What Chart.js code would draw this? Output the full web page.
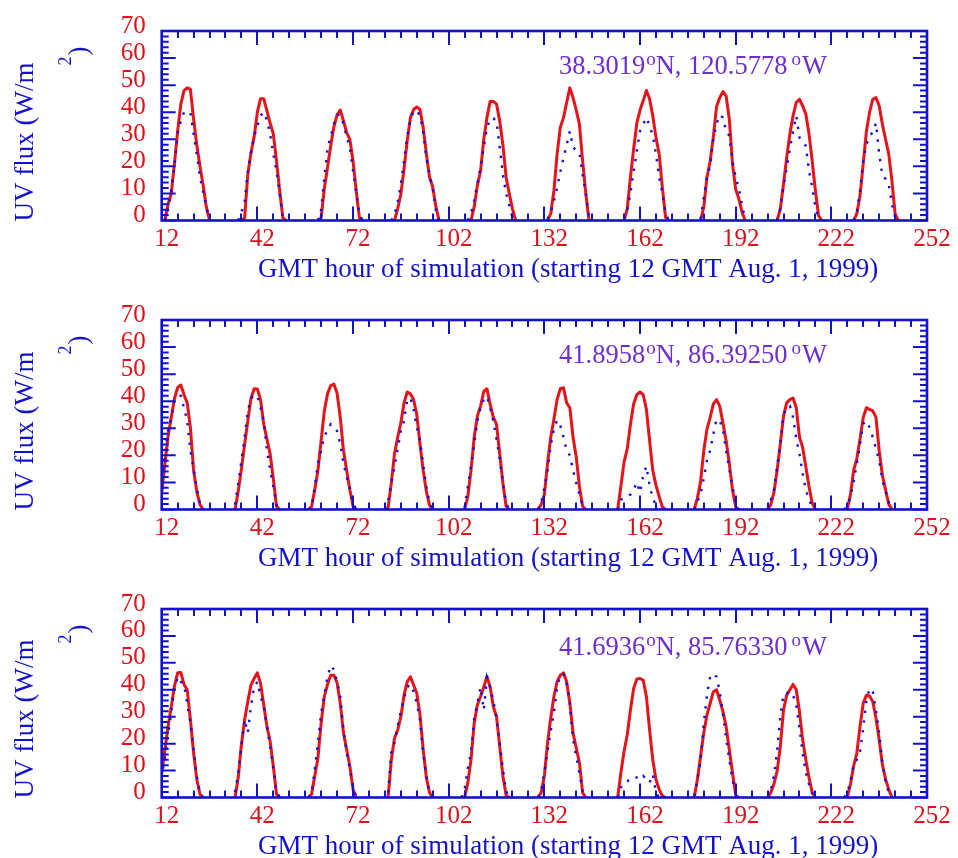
<!DOCTYPE html>
<html><head><meta charset="utf-8">
<script src="https://cdn.jsdelivr.net/npm/chart.js@4.4.0/dist/chart.umd.min.js"></script>
<style>
html,body{margin:0;padding:0;background:#fff;width:958px;height:858px;overflow:hidden;}
canvas{position:absolute;left:0;}
</style></head><body>
<canvas id="c1" width="958" height="289" style="top:0px"></canvas>
<canvas id="c2" width="958" height="289" style="top:289px"></canvas>
<canvas id="c3" width="958" height="280" style="top:578px"></canvas>
<script>
// ---------- labels ----------
const xTickValues = [12, 42, 72, 102, 132, 162, 192, 222, 252];
const yTickValues = [0, 10, 20, 30, 40, 50, 60, 70];
const xTitle = 'GMT hour of simulation (starting 12 GMT Aug. 1, 1999)';
const yTitle = 'UV flux (W/m';
const yTitleSup = '2';
const yTitleEnd = ')';
const siteLat = ['38.3019', '41.8958', '41.6936'];
const siteLon = ['120.5778', '86.39250', '85.76330'];

// ---------- panel 1 (hourly values, each day starts at pStart hour) ----------
const p1Start = [13, 36, 61, 84, 108, 133, 157, 181, 205, 229];
const p1Red = [
  [0, 6, 10, 21, 33, 43, 48, 49, 48.5, 37.5, 28, 20, 13, 5, 0],
  [0, 0, 1, 17, 25, 31, 40, 45, 45, 40.5, 36, 32, 22, 11, 1, 0],
  [0, 1, 11.7, 19.6, 27.6, 34.6, 39, 40.8, 36.8, 32.5, 30, 22, 11, 1, 0],
  [0, 0, 4.3, 9.8, 19, 29.5, 38, 41, 42, 41, 34.4, 24.6, 16, 12.3, 5, 0],
  [0, 0, 5, 13, 18.4, 30, 38, 44, 44, 43, 36.8, 28, 16, 10, 4.3, 0],
  [0, 2.5, 11, 24.6, 34.4, 38, 43.6, 49, 45.4, 40.8, 35.6, 22, 10, 0, 0],
  [0, 4.3, 16, 26.4, 36, 40.8, 44.2, 48, 45, 38.7, 30.7, 24.6, 12.3, 1.2, 0],
  [0, 5, 16, 22, 31, 42, 45.4, 47.6, 46, 37.5, 21, 11.5, 8, 3, 0],
  [0, 4.3, 13.5, 23.3, 32, 38.7, 43.6, 44.8, 42.4, 39.3, 32, 22, 11, 1.8, 0],
  [0, 2.5, 9.2, 21, 33, 40, 44.8, 45.4, 42.4, 35.6, 30, 24.6, 14.7, 2.5, 0]
];
const p1Blue = [
  [0, 4, 11.5, 20, 32, 37, 40, 40, 40, 32, 24.5, 16, 10.5, 5, 0],
  [0, 3, 7, 18, 25, 31, 35, 38.7, 40, 37, 32, 24.5, 18.4, 10, 0.6, 0],
  [0, 4, 16, 27, 31, 35.6, 39, 39, 35.6, 31, 27, 18.4, 10.4, 2.5, 0],
  [0, 2, 7, 13.5, 22, 31, 37, 40.5, 40.5, 38.7, 33, 23, 17, 11.7, 3.7, 0],
  [0, 2.7, 7.4, 13.5, 19.6, 27, 34, 37.7, 37.7, 36.8, 27, 17, 10, 5.5, 1.2, 0],
  [0.6, 3, 7, 12, 18, 23, 28, 33, 27, 26, 25, 17, 10, 1, 0],
  [0.6, 4.3, 10, 18, 25.8, 33, 35.6, 38, 35, 31.3, 24.6, 16, 10, 3, 0],
  [0.6, 8.5, 16, 20, 30.3, 35.6, 39, 38, 33, 31.3, 22, 16, 11.7, 5.5, 0.6],
  [0, 4.3, 12.3, 19.6, 26.4, 33, 38.7, 30.7, 29, 27.6, 18.4, 12.3, 5, 0.6, 0],
  [0, 3, 11, 22, 28, 31.3, 32.5, 36, 24.6, 16.6, 15.4, 13.5, 6, 1.2, 0]
];

// ---------- panel 2 ----------
const p2Start = [11, 35, 58, 82, 107, 130, 155, 179, 202, 226];
const p2Red = [
  [0, 6, 17, 27, 34, 41, 45, 46, 42.4, 39.4, 30.3, 14.5, 6.7, 1.8, 0],
  [0, 6.7, 15, 24, 32.7, 41, 44.6, 44.5, 40.6, 31.5, 26, 20.6, 11.5, 1.2, 0],
  [0, 1, 7.3, 14.5, 25.4, 36.4, 42.7, 45.8, 46.3, 43, 34, 21.8, 14.5, 7.3, 1.2, 0],
  [0, 0.6, 9.7, 20.6, 26.7, 32, 39.4, 43.4, 42.7, 40.6, 35, 24.2, 14.5, 6.7, 1.5, 0],
  [0, 4.8, 14.5, 26.7, 34.5, 38.2, 43.6, 44.6, 38.8, 34, 31.5, 20.6, 9.7, 1.2, 0],
  [0, 1.8, 5.5, 17, 26.7, 33.3, 40.6, 44.6, 45, 39.4, 37.6, 26.7, 19.4, 8.5, 1.2, 0],
  [0, 8.5, 17.6, 22.4, 31.5, 39, 42.4, 43.4, 42.4, 37, 25.5, 14.5, 9, 4.8, 1, 0],
  [0, 4.2, 10.3, 21.8, 29.7, 34, 39, 40.6, 38.2, 32, 25.5, 17, 7.3, 1, 0],
  [0, 1.8, 6.3, 14.5, 24.2, 34.5, 39.4, 40.6, 41.2, 37.6, 26.7, 23, 15.8, 8.5, 2.4, 0],
  [0, 0, 5.5, 14.5, 18.8, 26, 34, 37.6, 37, 36.4, 34, 21.8, 12.7, 7.3, 2, 0]
];
const p2Blue = [
  [0, 9, 20.6, 29, 34, 40.6, 41.8, 42, 37.6, 32.7, 21.8, 14.8, 7.9, 1.8, 0],
  [1.8, 9.7, 18, 26.7, 36.4, 41, 42.4, 41.8, 37.6, 32.7, 21.8, 14.8, 8.5, 1.8, 0],
  [0, 0.6, 8.5, 17, 21.8, 27.3, 29, 31.5, 30.3, 29, 24.2, 17, 12, 7.9, 2.4, 0],
  [0, 3, 9.7, 15.8, 22.4, 29, 32.7, 40.6, 41.2, 37, 30.3, 25.5, 16.4, 8.5, 2.4, 0],
  [0.6, 8.5, 15.8, 24.2, 32.7, 37.6, 40.6, 41.8, 37.6, 32.7, 26, 18.8, 9.7, 2.4, 0],
  [0, 2.4, 7.9, 14.5, 23.6, 29.7, 33, 31, 26.7, 21.8, 20, 14.5, 9.7, 5.5, 1.5, 0],
  [0, 3.6, 4.2, 5, 5.5, 7.3, 10, 6.3, 12.7, 16, 9, 4.2, 1.5, 0, 0, 0],
  [0, 2.7, 6, 11.5, 18.2, 21.8, 27.9, 33.3, 32.7, 29.7, 21.8, 15, 8.5, 2.4, 0],
  [0, 3.4, 7.3, 15.8, 24.2, 35, 37.8, 38.2, 34, 26, 20.6, 13.3, 7.3, 3.6, 1, 0],
  [0, 1.2, 4.8, 10.3, 17, 24.2, 31.7, 32.7, 30.3, 26.7, 22.4, 18.2, 10.9, 6.7, 2.7, 0]
];

// ---------- panel 3 ----------
const p3Start = [11, 35, 58, 83, 106, 130, 155, 179, 202, 226];
const p3Red = [
  [0, 9, 17.8, 26.4, 33.8, 41.4, 46.3, 46.4, 42, 40, 28.9, 16.6, 6.8, 1.2, 0],
  [0, 7.4, 19.6, 28.9, 35.6, 41.8, 44.2, 46.3, 42.4, 34.4, 26.4, 20.9, 11.7, 1.2, 0],
  [0, 1.2, 8, 14.7, 27.6, 37.5, 42, 45.4, 45.4, 42.6, 35, 24, 17.8, 11.7, 3, 0],
  [0, 14, 22, 25, 30, 38, 43, 44.8, 41.8, 38.7, 30.7, 17.8, 7.4, 1.8, 0],
  [0, 0, 5.5, 14, 27.6, 34.4, 37.5, 41, 45, 41, 33.8, 30, 19, 8, 0.8, 0],
  [0, 1.8, 8, 20.3, 29.5, 37.5, 43, 45.4, 46.3, 43, 35, 24, 18.4, 12.9, 1.8, 0],
  [0, 9.2, 17.2, 23.3, 32.5, 40.5, 44, 44.2, 43.6, 37.5, 25.2, 14, 6.7, 3, 0.6, 0],
  [0, 6.7, 15.4, 24, 30.7, 35, 39.3, 40, 36.2, 32, 26.4, 17.8, 9.2, 0.9, 0],
  [0, 1.8, 5, 9.8, 19, 32.5, 38, 40, 42, 40, 32, 21.5, 14, 7.4, 1.8, 0],
  [0, 0, 5, 11.7, 16.6, 26.4, 35, 38, 37.7, 35.6, 29.5, 21.5, 12.3, 6.8, 3, 0]
];
const p3Blue = [
  [0, 8, 14.7, 22.7, 32, 40, 44.8, 43, 41.8, 35, 27.6, 17.8, 8, 1.8, 0],
  [2, 9, 19, 29, 24, 34, 41, 43, 37.5, 33.8, 26.4, 19, 10.7, 2.5, 0],
  [0, 1.8, 10.4, 20.3, 31.3, 38, 44.8, 49, 47.5, 43, 37.5, 25.2, 16.6, 10.4, 4.3, 0],
  [1.8, 16.6, 20.3, 26.4, 32, 36.8, 41, 42, 39.3, 35, 28.9, 16.6, 8, 1.8, 0],
  [0, 3, 11, 16.6, 29.5, 35, 41, 32.5, 44.6, 41, 36, 29.5, 20.3, 10.4, 2.5, 0],
  [0, 2.5, 9.2, 17.2, 24.6, 31.3, 41, 45.4, 45.8, 42, 35, 21.5, 15.4, 9.2, 2, 0],
  [0, 3.7, 5.5, 6, 7, 7.7, 7.4, 6.7, 8, 6.7, 5.5, 8.6, 1.8, 0, 0, 0],
  [0.6, 6.7, 13.5, 27.6, 38, 44.8, 46, 44.8, 39.3, 31.3, 22, 14, 6.7, 1.8, 0],
  [0, 2.5, 8, 17.2, 30, 38.4, 38.7, 39.3, 38, 34.4, 25.8, 16.6, 9.2, 4.9, 1.6, 0],
  [0, 1.6, 6, 12.3, 14, 17, 25.8, 36, 40.5, 39.3, 32.5, 24, 12.9, 6, 1.8, 0]
];

// ---------- styling ----------
const AXIS = '#1212cc';
const RED = '#e4141a';
const TICKRED = '#e01018';
const DOT = '#1010dd';
const PURPLE = '#6e2ed2';
const FONT = "'Liberation Serif', 'Times New Roman', serif";

function buildSeries(starts, days) {
  const pts = [];
  days.forEach((arr, d) => {
    arr.forEach((v, i) => pts.push({x: starts[d] + i, y: v}));
    pts.push({x: starts[d] + arr.length, y: null});
  });
  return pts;
}

const decor = {
  id: 'decor',
  afterDatasetsDraw(chart, args, o) {
    const {ctx, chartArea: a, scales: {x, y}} = chart;
    ctx.save();
    ctx.strokeStyle = AXIS;
    ctx.lineWidth = 2;
    ctx.beginPath();
    for (let v = xTickValues[0]; v <= xTickValues[xTickValues.length - 1]; v += 5) {
      const px = Math.round(x.getPixelForValue(v));
      const L = xTickValues.includes(v) ? 14 : 7;
      ctx.moveTo(px, a.bottom); ctx.lineTo(px, a.bottom - L);
      ctx.moveTo(px, a.top); ctx.lineTo(px, a.top + L);
    }
    for (let v = 0; v <= 70; v += 2) {
      const py = y.getPixelForValue(v);
      const L = yTickValues.includes(v) ? 14 : 7;
      ctx.moveTo(a.left, py); ctx.lineTo(a.left + L, py);
      ctx.moveTo(a.right, py); ctx.lineTo(a.right - L, py);
    }
    ctx.stroke();
    ctx.lineWidth = 2.6;
    ctx.strokeRect(a.left, a.top, a.right - a.left, a.bottom - a.top);

    // x title
    ctx.fillStyle = AXIS;
    ctx.font = '27px ' + FONT;
    ctx.textAlign = 'left';
    ctx.textBaseline = 'alphabetic';
    ctx.fillText(xTitle, 258, a.bottom + 56);

    // y title (rotated)
    ctx.save();
    ctx.translate(33, a.bottom + 1);
    ctx.rotate(-Math.PI / 2);
    ctx.font = '27px ' + FONT;
    ctx.fillText(yTitle, 0, 0);
    ctx.restore();
    ctx.save();
    ctx.translate(66, a.top + 30);
    ctx.rotate(-Math.PI / 2);
    ctx.textAlign = 'center'; ctx.textBaseline = 'middle';
    ctx.font = '18px ' + FONT;
    ctx.fillText(yTitleSup, 0, 0);
    ctx.restore();
    ctx.save();
    ctx.translate(80, a.top + 20);
    ctx.rotate(-Math.PI / 2);
    ctx.textAlign = 'center'; ctx.textBaseline = 'middle';
    ctx.font = '27px ' + FONT;
    ctx.fillText(yTitleEnd, 0, 0);
    ctx.restore();

    // site annotation
    const i = o.panel;
    ctx.fillStyle = PURPLE;
    const big = '26.5px ' + FONT, small = '19px ' + FONT;
    const base = a.top + o.annDy;
    let cx = 559;
    const piece = (t, f, dy) => { ctx.font = f; ctx.fillText(t, cx, base + dy); cx += ctx.measureText(t).width; };
    piece(siteLat[i], big, 0);
    cx += 1;
    piece('o', small, -9.5);
    piece('N, ' + siteLon[i], big, 0);
    cx += 4;
    piece('o', small, -9.5);
    cx += 1;
    piece('W', big, 0);
    ctx.restore();
  }
};

function makeChart(id, panel, starts, red, blue, padTop, xH, annDy) {
  new Chart(document.getElementById(id), {
    type: 'line',
    data: {
      datasets: [
        {data: buildSeries(starts, blue), borderColor: DOT, borderWidth: 2.4, borderDash: [2.4, 7.4],
         borderCapStyle: 'butt', pointRadius: 0, tension: 0, spanGaps: false, fill: false},
        {data: buildSeries(starts, red), borderColor: RED, borderWidth: 3, pointRadius: 0,
         borderJoinStyle: 'round', tension: 0, spanGaps: false, fill: false}
      ]
    },
    options: {
      responsive: false, animation: false, devicePixelRatio: 1, events: [],
      layout: {autoPadding: false, padding: {left: 0, right: 31, top: padTop, bottom: 0}},
      plugins: {legend: {display: false}, tooltip: {enabled: false}, decor: {panel: panel, annDy: annDy}},
      scales: {
        x: {
          type: 'linear', min: 12, max: 252,
          afterBuildTicks: s => { s.ticks = xTickValues.map(v => ({value: v})); },
          afterFit: s => { s.height = xH; },
          grid: {display: false, drawTicks: false}, border: {display: false},
          ticks: {color: TICKRED, font: {family: FONT, size: 25}, padding: 4, labelOffset: 5,
                  maxRotation: 0, autoSkip: false}
        },
        y: {
          type: 'linear', min: 0, max: 70,
          afterBuildTicks: s => { s.ticks = yTickValues.map(v => ({value: v})); },
          afterFit: s => { s.width = 161.7; },
          grid: {display: false, drawTicks: false}, border: {display: false},
          ticks: {color: TICKRED, font: {family: FONT, size: 25}, padding: 16, labelOffset: -5,
                  autoSkip: false}
        }
      }
    },
    plugins: [decor]
  });
}

makeChart('c1', 0, p1Start, p1Red, p1Blue, 30, 68.5, 43);
makeChart('c2', 1, p2Start, p2Red, p2Blue, 29.5, 68.5, 43);
makeChart('c3', 2, p3Start, p3Red, p3Blue, 29, 60.5, 46);
</script>
</body></html>
